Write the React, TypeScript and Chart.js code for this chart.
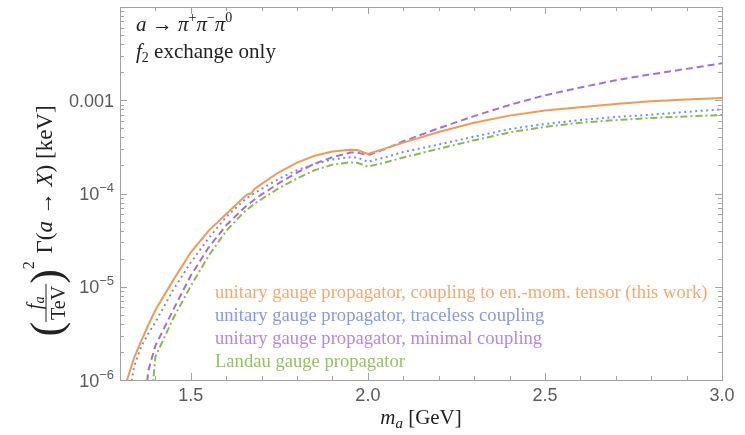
import React, { useEffect, useRef } from "react";
import { Chart, registerables } from "chart.js";
Chart.register(...registerables);

// ---------- data ----------
const MASS = [1.30, 1.32, 1.34, 1.36, 1.38, 1.40, 1.45, 1.50, 1.55, 1.60, 1.65, 1.66, 1.67, 1.68, 1.70, 1.75, 1.80, 1.85, 1.90, 1.95, 1.97, 2.00, 2.05, 2.10, 2.20, 2.30, 2.40, 2.50, 2.60, 2.70, 2.80, 2.90, 3.00];

const UNITARY_EMT = [4.47e-7, 1.0e-6, 1.74e-6, 2.63e-6, 3.89e-6, 5.62e-6, 1.17e-5, 2.34e-5, 3.98e-5, 6.03e-5, 9.12e-5, 9.77e-5, 1.0e-4, 1.12e-4, 1.27e-4, 1.70e-4, 2.14e-4, 2.54e-4, 2.82e-4, 2.95e-4, 2.92e-4, 2.65e-4, 3.05e-4, 3.51e-4, 4.57e-4, 5.75e-4, 6.84e-4, 7.76e-4, 8.41e-4, 9.12e-4, 9.73e-4, 1.02e-3, 1.06e-3];

const UNITARY_TRACELESS = [null, 5.01e-7, 1.41e-6, 2.29e-6, 3.16e-6, 4.17e-6, 9.23e-6, 1.82e-5, 3.31e-5, 5.62e-5, 8.41e-5, 9.02e-5, 9.55e-5, 1.01e-4, 1.12e-4, 1.45e-4, 1.78e-4, 2.07e-4, 2.32e-4, 2.45e-4, 2.43e-4, 2.19e-4, 2.45e-4, 2.79e-4, 3.35e-4, 4.07e-4, 4.90e-4, 5.56e-4, 6.14e-4, 6.61e-4, 7.00e-4, 7.50e-4, 8.00e-4];

const UNITARY_MINIMAL = [null, null, null, 2.51e-7, 1.26e-6, 2.34e-6, 5.62e-6, 1.32e-5, 2.63e-5, 4.57e-5, 7.0e-5, 7.5e-5, 8.04e-5, 8.61e-5, 9.77e-5, 1.30e-4, 1.68e-4, 2.09e-4, 2.45e-4, 2.75e-4, 2.75e-4, 2.57e-4, 3.02e-4, 3.63e-4, 5.01e-4, 6.76e-4, 8.91e-4, 1.13e-3, 1.37e-3, 1.64e-3, 1.90e-3, 2.17e-3, 2.49e-3];

const LANDAU = [null, null, null, null, 2.51e-7, 1.78e-6, 4.57e-6, 1.02e-5, 2.14e-5, 3.98e-5, 6.31e-5, 6.76e-5, 7.24e-5, 7.76e-5, 8.71e-5, 1.15e-4, 1.45e-4, 1.78e-4, 2.04e-4, 2.16e-4, 2.14e-4, 1.94e-4, 2.16e-4, 2.43e-4, 3.02e-4, 3.72e-4, 4.52e-4, 5.19e-4, 5.75e-4, 6.12e-4, 6.46e-4, 6.71e-4, 6.95e-4];

const X_TICK_VALUES = [1.5, 2.0, 2.5, 3.0];
const X_TICK_LABELS = ["1.5", "2.0", "2.5", "3.0"];
const Y_TICK_VALUES = [1e-3, 1e-4, 1e-5, 1e-6];
const Y_TICK_BASES = ["0.001", "10", "10", "10"];
const Y_TICK_EXPS = ["", "\u22124", "\u22125", "\u22126"];

const LEGEND_LABELS = [
  "unitary gauge propagator, coupling to en.-mom. tensor (this work)",
  "unitary gauge propagator, traceless coupling",
  "unitary gauge propagator, minimal coupling",
  "Landau gauge propagator",
];
const LINE_COLORS = ["#F39A4F", "#6F8EF2", "#A56DDC", "#84BE44"];
const TEXT_COLORS = ["#F5A86E", "#8298F2", "#B686E2", "#93C45A"];

// ---------- text helpers ----------
const SERIF = '"Liberation Serif", "Times New Roman", serif';
const SANS = '"Liberation Sans", Arial, sans-serif';

type Part = { t: string; size: number; italic?: boolean; dy?: number; family?: string };

function fontOf(p: Part) {
  return `${p.italic ? "italic " : ""}${p.size}px ${p.family || SERIF}`;
}
function runWidth(ctx: CanvasRenderingContext2D, parts: Part[]) {
  let w = 0;
  for (const p of parts) {
    ctx.font = fontOf(p);
    w += ctx.measureText(p.t).width;
  }
  return w;
}
function drawRun(ctx: CanvasRenderingContext2D, parts: Part[], x: number, y: number) {
  let cx = x;
  ctx.textAlign = "left";
  ctx.textBaseline = "alphabetic";
  for (const p of parts) {
    ctx.font = fontOf(p);
    ctx.fillText(p.t, cx, y + (p.dy || 0));
    cx += ctx.measureText(p.t).width;
  }
  return cx - x;
}

function drawYTitle(ctx: CanvasRenderingContext2D) {
  ctx.save();
  ctx.translate(52, 221);
  ctx.rotate(-Math.PI / 2);
  ctx.fillStyle = "#222";
  ctx.strokeStyle = "#222";
  const paren: Part = { t: "(", size: 44 };
  const parenR: Part = { t: ")", size: 44 };
  const num: Part[] = [
    { t: "f", size: 20, italic: true },
    { t: "a", size: 14, italic: true, dy: 3 },
  ];
  const den: Part[] = [{ t: "TeV", size: 20 }];
  const sup: Part[] = [{ t: "2", size: 16 }];
  const main: Part[] = [
    { t: " \u0393(", size: 23 },
    { t: "a", size: 23, italic: true },
    { t: " \u2192 ", size: 23 },
    { t: "X", size: 23, italic: true },
    { t: ") [keV]", size: 23 },
  ];
  const pw = runWidth(ctx, [paren]);
  const nw = runWidth(ctx, num);
  const dw = runWidth(ctx, den);
  const fw = Math.max(nw, dw) + 4;
  const sw = runWidth(ctx, sup);
  const mw = runWidth(ctx, main);
  const total = pw * 2 + fw + sw + mw + 2;
  let x = -total / 2;
  drawRun(ctx, [paren], x, 9);
  x += pw;
  drawRun(ctx, num, x + (fw - nw) / 2, -11);
  drawRun(ctx, den, x + (fw - dw) / 2, 13);
  ctx.lineWidth = 1;
  ctx.beginPath();
  ctx.moveTo(x, -6);
  ctx.lineTo(x + fw, -6);
  ctx.stroke();
  x += fw;
  drawRun(ctx, [parenR], x, 9);
  x += pw;
  drawRun(ctx, sup, x, -18);
  x += sw + 2;
  drawRun(ctx, main, x, 0);
  ctx.restore();
}

const decor = {
  id: "decor",
  afterDraw(chart: any) {
    const ctx: CanvasRenderingContext2D = chart.ctx;
    const { left, right, top, bottom } = chart.chartArea;
    const xs = chart.scales.x;
    const ys = chart.scales.y;
    ctx.save();
    // frame
    ctx.strokeStyle = "#a3a3a3";
    ctx.lineWidth = 1;
    ctx.strokeRect(Math.round(left) + 0.5, Math.round(top) + 0.5, Math.round(right - left), Math.round(bottom - top));
    // x ticks (inward, bottom and top)
    ctx.beginPath();
    for (let i = 14; i <= 29; i++) {
      const v = i / 10;
      const px = Math.round(xs.getPixelForValue(v)) + 0.5;
      const len = i % 5 === 0 ? 7 : 4;
      ctx.moveTo(px, bottom);
      ctx.lineTo(px, bottom - len);
      ctx.moveTo(px, top);
      ctx.lineTo(px, top + len);
    }
    // y ticks (inward, left and right)
    for (let e = -6; e <= -3; e++) {
      for (let m = 1; m <= 9; m++) {
        const v = m * Math.pow(10, e);
        if (e === -6 && m === 1) continue;
        const py = Math.round(ys.getPixelForValue(v)) + 0.5;
        const len = m === 1 ? 7 : 4;
        ctx.moveTo(left, py);
        ctx.lineTo(left + len, py);
        ctx.moveTo(right, py);
        ctx.lineTo(right - len, py);
      }
    }
    ctx.stroke();

    // x tick labels
    ctx.fillStyle = "#5a5a5a";
    ctx.font = `18px ${SANS}`;
    ctx.textAlign = "center";
    ctx.textBaseline = "top";
    X_TICK_VALUES.forEach((v, i) => {
      ctx.fillText(X_TICK_LABELS[i], xs.getPixelForValue(v), bottom + 7);
    });
    // y tick labels
    Y_TICK_VALUES.forEach((v, i) => {
      const py = ys.getPixelForValue(v);
      const parts: Part[] = [{ t: Y_TICK_BASES[i], size: 18, family: SANS }];
      if (Y_TICK_EXPS[i]) parts.push({ t: Y_TICK_EXPS[i], size: 13, family: SANS, dy: -8 });
      const w = runWidth(ctx, parts);
      drawRun(ctx, parts, left - 6 - w, py + 6.5);
    });

    // x title
    ctx.fillStyle = "#222";
    const xt: Part[] = [
      { t: "m", size: 21, italic: true },
      { t: "a", size: 15, italic: true, dy: 4 },
      { t: " [GeV]", size: 21 },
    ];
    const xw = runWidth(ctx, xt);
    drawRun(ctx, xt, (left + right) / 2 - xw / 2, 424);

    // y title
    drawYTitle(ctx);

    // annotation
    ctx.fillStyle = "#222";
    drawRun(ctx, [
      { t: "a", size: 21, italic: true },
      { t: " \u2192 ", size: 21 },
      { t: "\u03c0", size: 21, italic: true },
      { t: "+", size: 14, dy: -9 },
      { t: "\u03c0", size: 21, italic: true },
      { t: "\u2212", size: 14, dy: -9 },
      { t: "\u03c0", size: 21, italic: true },
      { t: "0", size: 14, dy: -9 },
    ], 136, 31);
    drawRun(ctx, [
      { t: "f", size: 21, italic: true },
      { t: "2", size: 14, dy: 4 },
      { t: " exchange only", size: 21 },
    ], 136, 58);

    // legend
    LEGEND_LABELS.forEach((lab, i) => {
      ctx.fillStyle = TEXT_COLORS[i];
      drawRun(ctx, [{ t: lab, size: 18.6 }], 215, 298 + i * 23);
    });
    ctx.restore();
  },
};

export default function App() {
  const ref = useRef<HTMLCanvasElement>(null);
  useEffect(() => {
    const mk = (vals: (number | null)[]) => MASS.map((m, i) => ({ x: m, y: vals[i] }));
    const chart = new Chart(ref.current as HTMLCanvasElement, {
      type: "line",
      data: {
        datasets: [
          { label: LEGEND_LABELS[0], data: mk(UNITARY_EMT), borderColor: LINE_COLORS[0], borderWidth: 2, pointRadius: 0, fill: false },
          { label: LEGEND_LABELS[1], data: mk(UNITARY_TRACELESS), borderColor: LINE_COLORS[1], borderWidth: 2, borderDash: [2, 3.5], pointRadius: 0, fill: false },
          { label: LEGEND_LABELS[2], data: mk(UNITARY_MINIMAL), borderColor: LINE_COLORS[2], borderWidth: 2, borderDash: [7, 4], pointRadius: 0, fill: false },
          { label: LEGEND_LABELS[3], data: mk(LANDAU), borderColor: LINE_COLORS[3], borderWidth: 2, borderDash: [7, 3, 2, 3], pointRadius: 0, fill: false },
        ] as any,
      },
      options: {
        animation: false,
        responsive: false,
        maintainAspectRatio: false,
        layout: { padding: { top: 7, right: 23, left: 0, bottom: 0 } },
        plugins: { legend: { display: false }, tooltip: { enabled: false } },
        scales: {
          x: {
            type: "linear", min: 1.3, max: 3.0,
            grid: { display: false }, border: { display: false }, ticks: { display: false },
            afterFit: (s: any) => { s.height = 55; },
          },
          y: {
            type: "logarithmic", min: 1e-6, max: 1e-2,
            grid: { display: false }, border: { display: false }, ticks: { display: false },
            afterFit: (s: any) => { s.width = 120; },
          },
        },
      } as any,
      plugins: [decor],
    });
    return () => chart.destroy();
  }, []);
  return (
    <div style={{ position: "fixed", left: 0, top: 0, width: 745, height: 435, background: "#fff" }}>
      <canvas ref={ref} width={745} height={435} style={{ width: 745, height: 435, display: "block" }} />
    </div>
  );
}
